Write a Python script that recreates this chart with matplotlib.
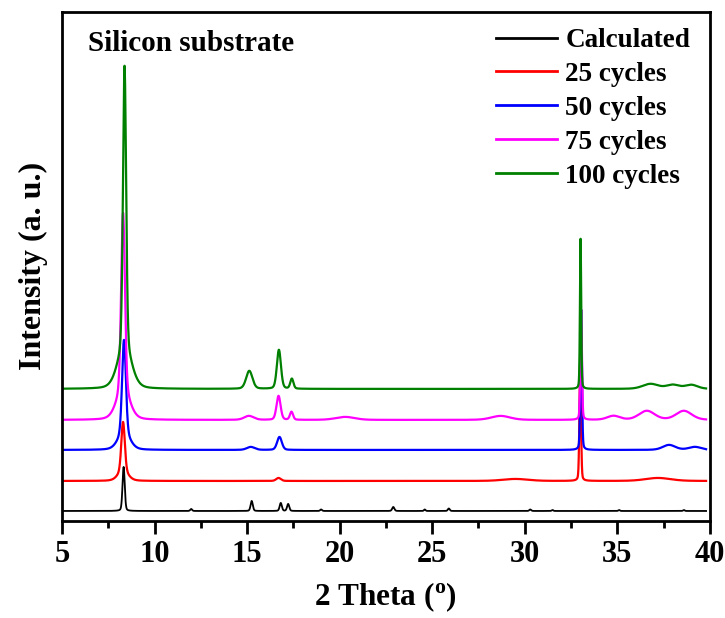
import numpy as np
from matplotlib import pyplot as plt
from matplotlib.ticker import MultipleLocator

# DATA
labels = ["Calculated", "25 cycles", "50 cycles", "75 cycles", "100 cycles"]
colors = ["black", "red", "blue", "magenta", "green"]
offsets = [10, 40, 71, 101, 132]

# peaks per pattern: position (2 theta), height, half width at half max
calc_pos = [8.33, 11.98, 15.25, 16.82, 17.22, 19.0, 22.9, 24.6, 25.9, 30.3, 31.5, 35.1, 38.6]
calc_hgt = [44, 2, 10, 8, 7, 1.5, 4, 1.5, 2.5, 1.5, 1, 1, 1]
calc_wid = [0.07, 0.06, 0.07, 0.07, 0.07, 0.06, 0.07, 0.05, 0.06, 0.06, 0.05, 0.05, 0.05]

c25_pos = [8.3, 8.3, 16.7, 33.0, 29.5, 37.2]
c25_hgt = [50, 9, 3, 118, 2, 3]
c25_wid = [0.11, 0.32, 0.15, 0.05, 0.8, 0.8]

c50_pos = [8.35, 8.35, 15.2, 16.75, 33.05, 37.8, 39.2]
c50_hgt = [95, 15, 3, 13, 140, 5, 3]
c50_wid = [0.12, 0.38, 0.25, 0.15, 0.05, 0.4, 0.4]

c75_pos = [8.3, 8.3, 15.1, 16.7, 17.4, 20.3, 28.7, 33.05, 36.6, 38.6, 34.8]
c75_hgt = [180, 27, 4, 24, 8, 3, 4, 110, 9, 9, 4]
c75_wid = [0.12, 0.42, 0.3, 0.13, 0.1, 0.6, 0.6, 0.05, 0.5, 0.5, 0.4]

c100_pos = [8.38, 8.38, 15.12, 16.72, 17.42, 33.02, 36.8, 38.0, 39.0]
c100_hgt = [285, 38, 18, 39, 10, 150, 5, 4, 4]
c100_wid = [0.1, 0.45, 0.2, 0.13, 0.1, 0.04, 0.5, 0.4, 0.4]

peaks = [
    (calc_pos, calc_hgt, calc_wid),
    (c25_pos, c25_hgt, c25_wid),
    (c50_pos, c50_hgt, c50_wid),
    (c75_pos, c75_hgt, c75_wid),
    (c100_pos, c100_hgt, c100_wid),
]

two_theta = np.linspace(5, 39.8, 3481)
eta = 0.25  # lorentzian fraction of the pseudo-voigt profile


def pattern(pos, hgt, wid):
    y = np.zeros_like(two_theta)
    for p, h, w in zip(pos, hgt, wid):
        d = (two_theta - p) / w
        y += h * (eta / (1 + d ** 2) + (1 - eta) * np.exp(-np.log(2) * d ** 2))
    return y


# PLOT
plt.rcParams["font.family"] = "Liberation Serif"
plt.rcParams["font.weight"] = "bold"

fig = plt.figure(figsize=(7.25, 6.18), dpi=100)
ax = fig.add_axes([0.0855, 0.157, 0.8935, 0.824])

for i in range(len(labels)):
    pos, hgt, wid = peaks[i]
    lw = 1.3 if i == 0 else 1.6
    ax.plot(two_theta, pattern(pos, hgt, wid) + offsets[i], color=colors[i], lw=lw, label=labels[i])

ax.set_xlim(5, 40)
ax.set_ylim(0, 509)
ax.set_yticks([])
ax.xaxis.set_major_locator(MultipleLocator(5))
ax.xaxis.set_minor_locator(MultipleLocator(2.5))
ax.tick_params(axis="x", which="major", direction="out", length=9, width=2, labelsize=22, pad=5, top=False)
ax.tick_params(axis="x", which="minor", direction="out", length=5, width=2, top=False)
for s in ax.spines.values():
    s.set_linewidth(2)

ax.set_xlabel("2 Theta ($^\\mathregular{o}$)", fontsize=22.5, fontweight="bold", labelpad=8)
ax.set_ylabel("Intensity (a. u.)", fontsize=23, fontweight="bold", labelpad=10)

ax.text(0.04, 0.937, "Silicon substrate", transform=ax.transAxes, fontsize=21,
        fontweight="bold", va="center", ha="left")

leg = ax.legend(loc="upper right", bbox_to_anchor=(0.995, 1.0), frameon=False, fontsize=19.5,
                handlelength=2.25, handletextpad=0.3, labelspacing=0.33, borderaxespad=0.2)
for line in leg.get_lines():
    line.set_linewidth(2)

plt.savefig("out.png", dpi=100)
